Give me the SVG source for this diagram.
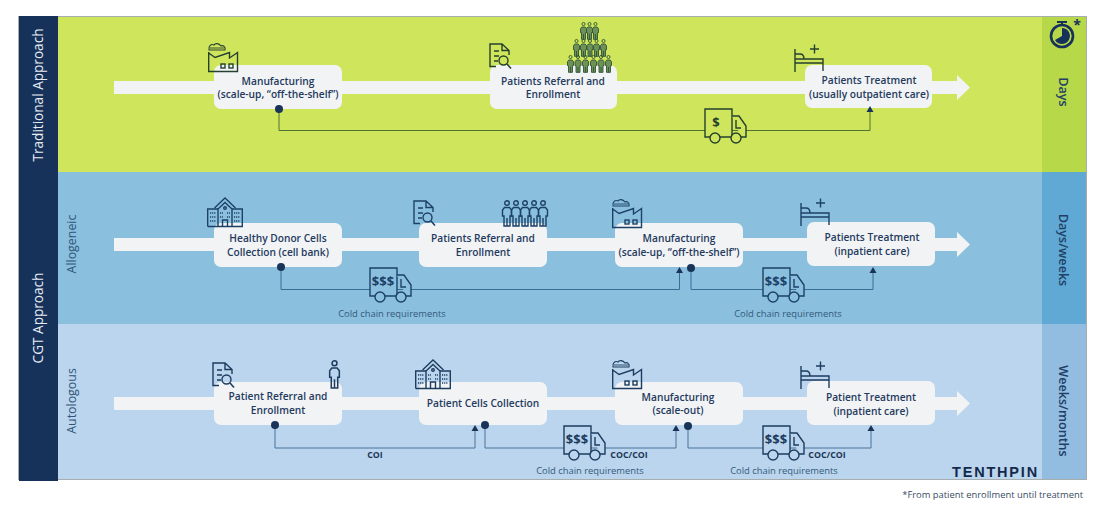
<svg xmlns="http://www.w3.org/2000/svg" width="1100" height="514" viewBox="0 0 1100 514">
<style>
text{font-family:"Open Sans","Noto Sans",sans-serif}
.n{fill:#f2f3f5}
.l{font-size:10.200px;font-weight:600;fill:#243a5e;text-anchor:middle}
.c{font-size:9.400px;fill:#35597c;text-anchor:middle}
.b{font-size:8.800px;font-weight:700;fill:#1c3558;text-anchor:middle}
.side{font-size:13.600px;fill:#e6ecf2;text-anchor:middle}
.sub{font-size:12.400px;fill:#2e5478;text-anchor:middle}
.dur{font-size:12.600px;font-weight:600;fill:#1f3f66;text-anchor:middle}
.ic{fill:none;stroke-width:1.400;stroke-linejoin:miter}
.g{stroke:#26402f}.bl{stroke:#1d4068}.lb{stroke:#1d3c60}
.line{fill:none;stroke-width:1;marker-start:url(#dot);marker-end:url(#tip)}
.usd{font-size:13px;font-weight:700;text-anchor:middle;stroke:none}
</style>
<defs>
<marker id="tip" markerUnits="userSpaceOnUse" markerWidth="8" markerHeight="8" refX="1" refY="4" orient="auto" viewBox="0 0 8 8"><path d="M1 .5V7.500L7 4Z" fill="#1a3358"/></marker>
<marker id="dot" markerUnits="userSpaceOnUse" markerWidth="10" markerHeight="10" refX="5" refY="5" viewBox="0 0 10 10"><circle cx="5" cy="5" r="4" fill="#1a3358"/></marker>
<symbol id="factory" viewBox="0 0 30 29" overflow="visible"><path d="M.7 9V28.500H29.500V9.500L21.500 15V9.500L7 14.500L.7 10" fill="none"/><path d="M1 7H17C18 3.500 15 2 13 3C11 0 7 0 6 2C3 .5 0 3.500 1 7Z" fill="none" stroke-width="1.100"/><path d="M1.500 5H16.500" fill="none" stroke-width=".9"/><rect x="13" y="21" width="4" height="4" fill="none"/><rect x="21" y="21" width="4" height="4" fill="none"/></symbol>
<symbol id="doc" viewBox="0 0 23 26" overflow="visible"><path d="M7 23.500H1V1H13L20 7.500V12M13 1V7.500H20" fill="none"/><path d="M5 8H10M5 13H10M5 18H9" fill="none"/><circle cx="14.500" cy="17.500" r="4.500" fill="none"/><path d="M18 21L22 25.500" fill="none" stroke-width="1.600"/></symbol>
<symbol id="bed" viewBox="0 0 30 29" overflow="visible"><path d="M1 6V29M1 20H29M1 16H29V28M1 11H6C9 11 10 13 10 16" fill="none"/><path d="M16 6H25M20.500 1.500V10.500" fill="none"/></symbol>
<symbol id="truck" viewBox="0 0 43 35" overflow="visible"><path d="M6 29H1V1H28V29"/><path d="M28 8H35L42 18V29H37M16 29H27"/><circle cx="11" cy="30" r="5"/><circle cx="32" cy="30" r="5"/><path d="M32 12V20H37" fill="none"/></symbol>
<symbol id="person" viewBox="0 0 10 27" overflow="visible"><circle cx="5" cy="3" r="2.300" fill="none"/><path d="M2.500 7.500H7.500L9.500 10V16H8V26H2V16H.5V10Z"/><path d="M5 18V26" fill="none"/></symbol>
<symbol id="hospital" viewBox="0 0 36 30" overflow="visible"><path d="M.7 29.500V12H11M25 12H35.300V29.500H.7" fill="none"/><path d="M11 29.500V12L18 5.500L25 12V29.500" fill="none"/><path d="M7.500 11L18 1L28.500 11" fill="none"/><circle cx="18" cy="11" r="1.300" fill="none"/><path d="M15.500 29.500V23H20.500V29.500" fill="none"/><path d="M3 16H9M3 20H9M3 24H9M13 16H16M20 16H23M13 20H16M20 20H23M27 16H33M27 20H33M27 24H33" fill="none" stroke-dasharray="1.200 .9" stroke-width="1.700"/></symbol>
</defs>

<g id="bands">
<rect x="18" y="16" width="1069" height="464" fill="#a6adad"/>
<rect x="19" y="17" width="1023" height="155" fill="#cfe65c"/>
<rect x="1042" y="17" width="44" height="155" fill="#b6d849"/>
<rect x="19" y="172" width="1023" height="152" fill="#8ac0de"/>
<rect x="1042" y="172" width="44" height="152" fill="#60a9d4"/>
<rect x="19" y="324" width="1023" height="155" fill="#bad5ed"/>
<rect x="1042" y="324" width="44" height="155" fill="#92bde1"/>
<rect x="19" y="16" width="39" height="465" fill="#16315a"/>
<text class="side" transform="translate(43 95) rotate(-90)">Traditional Approach</text>
<text class="side" transform="translate(43 318) rotate(-90)">CGT Approach</text>
<text class="sub" transform="translate(76 244) rotate(-90)">Allogeneic</text>
<text class="sub" transform="translate(76 401) rotate(-90)">Autologous</text>
<text class="dur" transform="translate(1059 92) rotate(90)">Days</text>
<text class="dur" transform="translate(1059 250) rotate(90)">Days/weeks</text>
<text class="dur" transform="translate(1059 411) rotate(90)">Weeks/months</text>
</g>

<g id="arrows" fill="#f2f3f5">
<path d="M114 81H957V75L970 87.500L957 100V94H114Z"/>
<path d="M114 238H957V232L970 244.500L957 257V251H114Z"/>
<path d="M114 397H957V391L970 403.500L957 416V410H114Z"/>
</g>

<g id="node-t1">
<rect class="n" x="214" y="65" width="128" height="44" rx="7"/>
<use href="#factory" x="208" y="43" width="30" height="29" class="ic g"/>
<text class="l" x="278" y="85">Manufacturing</text><text class="l" x="278" y="98">(scale-up, “off-the-shelf”)</text>
</g>
<g id="node-t2">
<rect class="n" x="490" y="65" width="127" height="44" rx="7"/>
<use href="#doc" x="489" y="43" width="23" height="26" class="ic g"/>
<g class="ic" stroke="#33583a" stroke-width="1.800" style="fill:#6f9158">
<use href="#person" x="580" y="22" width="7" height="18"/><use href="#person" x="586" y="22" width="7" height="18"/><use href="#person" x="592" y="22" width="7" height="18"/>
<use href="#person" x="573" y="39" width="7" height="18"/><use href="#person" x="580" y="39" width="7" height="18"/><use href="#person" x="586.500" y="39" width="7" height="18"/><use href="#person" x="593" y="39" width="7" height="18"/><use href="#person" x="600" y="39" width="7" height="18"/>
<use href="#person" x="567" y="55" width="7" height="18"/><use href="#person" x="574.500" y="55" width="7" height="18"/><use href="#person" x="582" y="55" width="7" height="18"/><use href="#person" x="590" y="55" width="7" height="18"/><use href="#person" x="597.500" y="55" width="7" height="18"/><use href="#person" x="605" y="55" width="7" height="18"/>
</g>
<text class="l" x="553" y="85">Patients Referral and</text><text class="l" x="553" y="98">Enrollment</text>
</g>
<g id="node-t3">
<rect class="n" x="805" y="65" width="127" height="43" rx="7"/>
<use href="#bed" x="794" y="43" width="30" height="29" class="ic g"/>
<text class="l" x="869" y="84">Patients Treatment</text><text class="l" x="869" y="98">(usually outpatient care)</text>
</g>

<g id="node-a1">
<rect class="n" x="214" y="223" width="128" height="44" rx="7"/>
<use href="#hospital" x="207" y="197" width="36" height="30" class="ic bl" stroke-width="1"/>
<text class="l" x="278" y="242">Healthy Donor Cells</text><text class="l" x="278" y="256">Collection (cell bank)</text>
</g>
<g id="node-a2">
<rect class="n" x="419" y="223" width="128" height="44" rx="7"/>
<use href="#doc" x="413" y="200" width="23" height="26" class="ic bl"/>
<g class="ic bl" stroke-width="1.100">
<use href="#person" x="502" y="200" width="10" height="27"/><use href="#person" x="511" y="200" width="10" height="27"/><use href="#person" x="520" y="200" width="10" height="27"/><use href="#person" x="529" y="200" width="10" height="27"/><use href="#person" x="538" y="200" width="10" height="27"/>
</g>
<text class="l" x="483" y="242">Patients Referral and</text><text class="l" x="483" y="256">Enrollment</text>
</g>
<g id="node-a3">
<rect class="n" x="615" y="223" width="128" height="44" rx="7"/>
<use href="#factory" x="612" y="199" width="30" height="29" class="ic bl"/>
<text class="l" x="679" y="242">Manufacturing</text><text class="l" x="679" y="256">(scale-up, “off-the-shelf”)</text>
</g>
<g id="node-a4">
<rect class="n" x="807" y="222" width="128" height="44" rx="7"/>
<use href="#bed" x="800" y="197" width="30" height="29" class="ic bl"/>
<text class="l" x="872" y="241">Patients Treatment</text><text class="l" x="872" y="255">(inpatient care)</text>
</g>

<g id="node-b1">
<rect class="n" x="214" y="382" width="128" height="43" rx="7"/>
<use href="#doc" x="212" y="362" width="23" height="26" class="ic lb"/>
<use href="#person" x="327" y="360" width="15" height="29" class="ic lb" stroke-width="1"/>
<text class="l" x="278" y="400">Patient Referral and</text><text class="l" x="278" y="414">Enrollment</text>
</g>
<g id="node-b2">
<rect class="n" x="419" y="382" width="128" height="43" rx="7"/>
<use href="#hospital" x="415" y="359" width="36" height="30" class="ic lb" stroke-width="1"/>
<text class="l" x="483" y="407">Patient Cells Collection</text>
</g>
<g id="node-b3">
<rect class="n" x="615" y="382" width="128" height="43" rx="7"/>
<use href="#factory" x="612" y="360" width="30" height="29" class="ic lb"/>
<text class="l" x="678" y="401">Manufacturing</text><text class="l" x="678" y="414">(scale-out)</text>
</g>
<g id="node-b4">
<rect class="n" x="807" y="381" width="128" height="44" rx="7"/>
<use href="#bed" x="800" y="360" width="30" height="29" class="ic lb"/>
<text class="l" x="871" y="401">Patient Treatment</text><text class="l" x="871" y="415">(inpatient care)</text>
</g>

<g id="connectors">
<path class="line" stroke="#4f7330" d="M279 109V130.500H870V112"/>
<path class="line" stroke="#3a6d96" d="M281 267V289.500H679.500V273"/>
<path class="line" stroke="#3a6d96" d="M691 268V289.500H873V273"/>
<path class="line" stroke="#48739c" d="M275 425V448H475V431"/>
<path class="line" stroke="#48739c" d="M485 425V448H676V431"/>
<path class="line" stroke="#48739c" d="M688 426V448H871V431"/>
</g>

<use id="truck-t" href="#truck" x="704" y="108" width="43" height="35" class="ic g" style="fill:#cfe65c"/>
<text class="usd" x="716" y="127" fill="#26402f">$</text>
<use id="truck-a1" href="#truck" x="369" y="267" width="43" height="35" class="ic bl" style="fill:#8ac0de"/>
<text class="usd" x="383" y="286" fill="#1d4068">$$$</text>
<use id="truck-a2" href="#truck" x="762" y="267" width="43" height="35" class="ic bl" style="fill:#8ac0de"/>
<text class="usd" x="776" y="286" fill="#1d4068">$$$</text>
<text class="c" x="392" y="317">Cold chain requirements</text>
<text class="c" x="788" y="317">Cold chain requirements</text>
<use id="truck-b1" href="#truck" x="563" y="425" width="43" height="35" class="ic lb" style="fill:#bad5ed"/>
<text class="usd" x="577" y="444" fill="#1d3c60">$$$</text>
<use id="truck-b2" href="#truck" x="762" y="425" width="43" height="35" class="ic lb" style="fill:#bad5ed"/>
<text class="usd" x="776" y="444" fill="#1d3c60">$$$</text>
<text class="b" x="375" y="458">COI</text>
<text class="b" x="629" y="458">COC/COI</text>
<text class="b" x="827" y="458">COC/COI</text>
<text class="c" x="590" y="474">Cold chain requirements</text>
<text class="c" x="784" y="474">Cold chain requirements</text>

<g id="logo"><text x="952" y="477" style="font-family:'Liberation Sans',sans-serif;font-size:14.500px;font-weight:700;letter-spacing:1.800px" fill="#14294a">TENTHPIN</text></g>

<g id="timer">
<circle cx="1062" cy="36" r="11" fill="none" stroke="#16315a" stroke-width="2.600"/>
<path d="M1062 36V28A8 8 0 1 1 1055 40Z" fill="#16315a"/>
<path d="M1057 22H1067M1062 22V25" fill="none" stroke="#16315a" stroke-width="2"/>
<text x="1077" y="30" style="font-size:14px;font-weight:700" fill="#16315a" text-anchor="middle">*</text>
</g>
<text x="1083" y="498" text-anchor="end" style="font-size:9.400px" fill="#3a4b63">*From patient enrollment until treatment</text>
</svg>
